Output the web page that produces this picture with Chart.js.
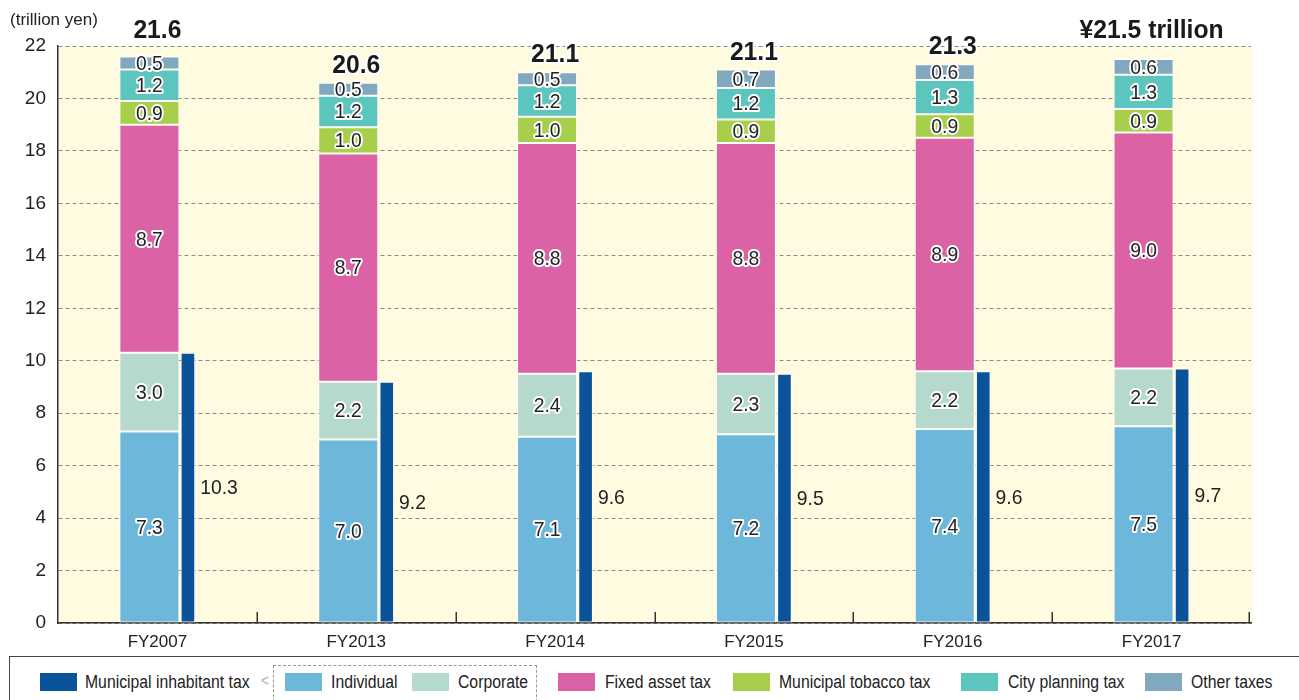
<!DOCTYPE html>
<html>
<head>
<meta charset="utf-8">
<script src="https://cdn.jsdelivr.net/npm/chart.js@4.4.1/dist/chart.umd.min.js"></script>
<style>
  html, body { margin: 0; padding: 0; background: #fff; overflow: hidden; }
  body { width: 1299px; height: 700px; position: relative; font-family: "Liberation Sans", Arial, sans-serif; color: #222; }
  #wrap { position: absolute; left: 0; top: 0; width: 1299px; height: 655px; }
  #unit { position: absolute; left: 10px; top: 10px; font-size: 17px; color: #222; }
  #legend { position: absolute; left: 9px; top: 656px; width: 1300px; height: 50px; border: 1.5px solid #444; box-sizing: border-box; }
  .sw { position: absolute; top: 673px; width: 37px; height: 18px; }
  .lt { position: absolute; top: 672px; font-size: 18px; line-height: 20px; color: #222; white-space: nowrap; transform: scaleX(0.875); transform-origin: 0 0; }
  #dash { position: absolute; left: 273px; top: 665px; width: 264px; height: 37px; border: 1.2px dashed #999; box-sizing: border-box; }
  #chev { position: absolute; left: 261px; top: 671px; font-size: 17px; color: #aaa; transform: scaleX(0.8); transform-origin: 0 0; }
</style>
</head>
<body>
<div id="wrap"><canvas id="c" width="1299" height="655"></canvas></div>
<div id="unit">(trillion yen)</div>
<div id="legend"></div>
<div id="dash"></div>
<div id="chev">&lt;</div>
<div id="leg-items"></div>
<script>
// ---- data ----
const categories = ['FY2007', 'FY2013', 'FY2014', 'FY2015', 'FY2016', 'FY2017'];
const individual = [7.3, 7.0, 7.1, 7.2, 7.4, 7.5];
const corporate = [3.0, 2.2, 2.4, 2.3, 2.2, 2.2];
const fixedAsset = [8.7, 8.7, 8.8, 8.8, 8.9, 9.0];
const tobacco = [0.9, 1.0, 1.0, 0.9, 0.9, 0.9];
const cityPlanning = [1.2, 1.2, 1.2, 1.2, 1.3, 1.3];
const otherTaxes = [0.5, 0.5, 0.5, 0.7, 0.6, 0.6];
const inhabitant = [10.3, 9.2, 9.6, 9.5, 9.6, 9.7];
const totalLabels = ['21.6', '20.6', '21.1', '21.1', '21.3', '¥21.5 trillion'];
const yTicks = [0, 2, 4, 6, 8, 10, 12, 14, 16, 18, 20, 22];
const seriesNames = ['Municipal inhabitant tax', 'Individual', 'Corporate', 'Fixed asset tax', 'Municipal tobacco tax', 'City planning tax', 'Other taxes'];

const colors = {
  inhabitant: '#0a539b',
  individual: '#6db7da',
  corporate: '#b5dacd',
  fixed: '#da62a5',
  tobacco: '#a8cf4b',
  city: '#5cc5bd',
  other: '#80a8be'
};
const FONT = '"Liberation Sans", Arial, sans-serif';

// ---- legend (HTML) ----
const legendLayout = [
  { name: seriesNames[0], color: colors.inhabitant, sx: 40, tx: 85 },
  { name: seriesNames[1], color: colors.individual, sx: 285, tx: 331 },
  { name: seriesNames[2], color: colors.corporate, sx: 412, tx: 458 },
  { name: seriesNames[3], color: colors.fixed, sx: 558, tx: 605 },
  { name: seriesNames[4], color: colors.tobacco, sx: 733, tx: 779 },
  { name: seriesNames[5], color: colors.city, sx: 961, tx: 1008 },
  { name: seriesNames[6], color: colors.other, sx: 1145, tx: 1191 }
];
const li = document.getElementById('leg-items');
legendLayout.forEach(l => {
  const s = document.createElement('div');
  s.className = 'sw'; s.style.left = l.sx + 'px'; s.style.background = l.color;
  li.appendChild(s);
  const t = document.createElement('div');
  t.className = 'lt'; t.style.left = l.tx + 'px'; t.textContent = l.name;
  li.appendChild(t);
});

// ---- plugins ----
const bgPlugin = {
  id: 'bg',
  beforeDraw(chart) {
    const { ctx, chartArea: a } = chart;
    ctx.save();
    ctx.fillStyle = '#fffbe0';
    ctx.fillRect(a.left, a.top, a.right - a.left + 2, a.bottom - a.top);
    ctx.restore();
  }
};

const tickPlugin = {
  id: 'catTicks',
  afterDraw(chart) {
    const { ctx, chartArea: a } = chart;
    const xs = chart.scales.x;
    const n = categories.length;
    ctx.save();
    ctx.strokeStyle = '#333';
    ctx.lineWidth = 1.5;
    for (let i = 1; i <= n; i++) {
      let x;
      if (i < n) x = (xs.getPixelForValue(i - 1) + xs.getPixelForValue(i)) / 2;
      else x = xs.getPixelForValue(n - 1) + (xs.getPixelForValue(n - 1) - xs.getPixelForValue(n - 2)) / 2 - 2;
      x = Math.round(x) + 0.25;
      ctx.beginPath();
      ctx.moveTo(x, a.bottom);
      ctx.lineTo(x, a.bottom - 11);
      ctx.stroke();
    }
    ctx.restore();
  }
};

function drawNarrow(ctx, txt, x, y, sx) {
  ctx.save();
  ctx.translate(x, y);
  ctx.scale(sx, 1);
  ctx.strokeText(txt, 0, 0);
  ctx.fillText(txt, 0, 0);
  ctx.restore();
}

const labelPlugin = {
  id: 'labels',
  afterDatasetsDraw(chart) {
    const { ctx, chartArea: a } = chart;
    ctx.save();
    ctx.textAlign = 'center';
    ctx.textBaseline = 'middle';
    ctx.lineJoin = 'round';
    // segment labels
    for (let d = 0; d < 6; d++) {
      const meta = chart.getDatasetMeta(d);
      const ds = chart.data.datasets[d];
      meta.data.forEach((bar, i) => {
        const y = (bar.y + bar.base) / 2;
        const txt = ds.data[i].toFixed(1);
        ctx.font = '21px ' + FONT;
        ctx.lineWidth = 4;
        ctx.strokeStyle = '#fff';
        ctx.fillStyle = '#222';
        drawNarrow(ctx, txt, bar.x, y + 1, 0.92);
      });
    }
    // inhabitant tax labels
    const im = chart.getDatasetMeta(6);
    ctx.textAlign = 'left';
    im.data.forEach((bar, i) => {
      const y = (bar.y + bar.base) / 2;
      ctx.font = '21px ' + FONT;
      ctx.fillStyle = '#222';
      ctx.save();
      ctx.translate(bar.x + bar.width / 2 + 5, y + 1);
      ctx.scale(0.92, 1);
      ctx.fillText(inhabitant[i].toFixed(1), 0, 0);
      ctx.restore();
    });
    // totals
    const topMeta = chart.getDatasetMeta(5);
    const xs = chart.scales.x;
    ctx.textAlign = 'center';
    ctx.textBaseline = 'alphabetic';
    topMeta.data.forEach((bar, i) => {
      const cx = xs.getPixelForValue(i);
      let base = bar.y - 10;
      if (i === 0 || i === categories.length - 1) base = a.top - 8;
      ctx.font = 'bold 26px ' + FONT;
      ctx.lineWidth = 4;
      ctx.strokeStyle = '#fff';
      ctx.fillStyle = '#1a1a1a';
      drawNarrow(ctx, totalLabels[i], cx, base, 0.95);
    });
    ctx.restore();
  }
};

// ---- chart ----
const mainOpts = { stack: 'main', categoryPercentage: 0.161, barPercentage: 3.75, borderColor: '#ffffff', borderWidth: 1, borderSkipped: false };
const inhOpts = { stack: 'inh', categoryPercentage: 0.614, barPercentage: 0.24, borderColor: '#ffffff', borderWidth: 1, borderSkipped: false };

new Chart(document.getElementById('c'), {
  type: 'bar',
  data: {
    labels: categories,
    datasets: [
      Object.assign({ label: seriesNames[1], data: individual, backgroundColor: colors.individual }, mainOpts),
      Object.assign({ label: seriesNames[2], data: corporate, backgroundColor: colors.corporate }, mainOpts),
      Object.assign({ label: seriesNames[3], data: fixedAsset, backgroundColor: colors.fixed }, mainOpts),
      Object.assign({ label: seriesNames[4], data: tobacco, backgroundColor: colors.tobacco }, mainOpts),
      Object.assign({ label: seriesNames[5], data: cityPlanning, backgroundColor: colors.city }, mainOpts),
      Object.assign({ label: seriesNames[6], data: otherTaxes, backgroundColor: colors.other }, mainOpts),
      Object.assign({ label: seriesNames[0], data: inhabitant, backgroundColor: colors.inhabitant }, inhOpts)
    ]
  },
  options: {
    responsive: false,
    animation: false,
    layout: { padding: { left: 0, right: 48, top: 46, bottom: 0 } },
    plugins: { legend: { display: false }, tooltip: { enabled: false }, title: { display: false } },
    scales: {
      x: {
        stacked: true,
        offset: true,
        grid: { display: false },
        border: { display: true, color: '#333', width: 1.5 },
        ticks: { color: '#222', font: { family: FONT, size: 17 }, padding: 1 },
        afterFit(s) { s.height = 32; }
      },
      y: {
        stacked: true,
        min: 0,
        max: 22,
        afterBuildTicks(s) { s.ticks = yTicks.map(v => ({ value: v })); },
        ticks: { color: '#222', font: { family: FONT, size: 19 }, padding: 12 },
        grid: { color: '#8a8a8a', lineWidth: 1, drawTicks: false },
        border: { display: true, color: '#333', width: 1.5, dash: [4, 3] },
        afterFit(s) { s.width = 58; }
      }
    }
  },
  plugins: [bgPlugin, tickPlugin, labelPlugin]
});
</script>
</body>
</html>
